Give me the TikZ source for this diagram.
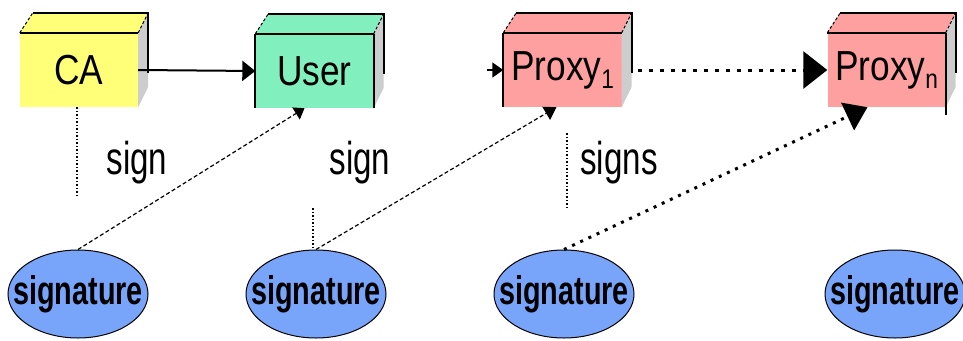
\documentclass[tikz,border=0pt]{standalone}
\usepackage{fontspec}
\setmainfont{Liberation Sans}
\newfontfamily\boxfont[FakeStretch=0.84]{Liberation Sans}
\newfontfamily\signfont[FakeStretch=0.72]{Liberation Sans}
\usetikzlibrary{arrows.meta,shapes.geometric}
\definecolor{cayellow}{RGB}{255,255,120}
\definecolor{usergreen}{RGB}{130,240,190}
\definecolor{proxyred}{RGB}{255,160,160}
\definecolor{sigblue}{RGB}{120,165,250}
\definecolor{sidegray}{RGB}{205,205,205}
\tikzset{
  front/.style={rectangle, minimum width=118pt, minimum height=74pt, inner sep=0pt,
    font=\boxfont\fontsize{42}{42}\selectfont},
  edge/.style={line width=2pt},
  sig/.style={ellipse, draw, line width=1pt, fill=sigblue, minimum width=140pt,
    minimum height=88pt, inner sep=0pt, font=\signfont\bfseries\fontsize{40}{40}\selectfont},
  lbl/.style={inner sep=0pt, font=\signfont\fontsize{46}{46}\selectfont},
  diag/.style={line width=1.2pt, dash pattern=on 4pt off 2.5pt},
  vdot/.style={line width=1.3pt, dash pattern=on 1.5pt off 2pt},
}
\newcommand\cubeparts[2]{%
  \fill[#2] (#1.north west) -- ++(13,-20) -- ([shift={(10,-20)}]#1.north east) -- (#1.north east) -- cycle;
  \fill[sidegray] (#1.north east) -- ++(10,-20) -- ++(0,74) -- (#1.south east) -- cycle;
  \draw[edge] ([shift={(13,-20)}]#1.north west) -- ([shift={(10,-20)}]#1.north east) -- ++(0,60);
  \draw[edge] (#1.north west) -- (#1.north east);
  \draw[line width=1pt, densely dashed] (#1.north west) -- ++(13,-20);
  \draw[line width=1pt, densely dashed] (#1.north east) -- ++(10,-20);
}
\newcommand\sub[1]{\raisebox{-8pt}{\fontsize{27}{27}\selectfont #1}}
\begin{document}
\begin{tikzpicture}[x=1pt,y=-1pt]
\useasboundingbox (0,0) rectangle (963,340);
% boxes
\node[front, fill=cayellow] (ca) at (79,70) {CA};
\node[front, fill=usergreen] (user) at (314.5,71) {User};
\node[front, fill=proxyred] (p1) at (562.5,70) {Proxy\sub{1}};
\node[front, fill=proxyred] (pn) at (886.5,70) {Proxy\sub{n}};
\cubeparts{ca}{cayellow}
\cubeparts{user}{usergreen}
\cubeparts{p1}{proxyred}
\cubeparts{pn}{proxyred}
\draw[edge] (user.north west) -- (user.south west);
\draw[edge] (user.north east) -- (user.south east);
\draw[edge] (p1.north west) -- (p1.south west);
\draw[edge] (pn.north east) -- ([yshift=-8pt]pn.south east);
% signatures
\node[sig] (s1) at (78,294) {\makebox[0pt]{signature}};
\node[sig] (s2) at (316,294) {\makebox[0pt]{signature}};
\node[sig] (s3) at (564,294) {\makebox[0pt]{signature}};
\node[sig] (s4) at (895,294) {\makebox[0pt]{signature}};
% labels
\node[lbl] (l1) at (137,163) {sign};
\node[lbl] (l2) at (360,163) {sign};
\node[lbl] (l3) at (619,163) {signs};
% top connectors
\draw[line width=2pt, -{Triangle[length=13pt,width=20pt]}] (ca.east) -- (user.west);
\coordinate (pin) at (487,70);
\draw[line width=1.5pt, -{Triangle[length=11pt,width=15pt]}] (pin) -- (p1.west);
\draw[line width=3pt, dash pattern=on 4pt off 7pt, -{Triangle[length=24pt,width=37pt]}]
  ([xshift=16pt]p1.east) -- (pn.west);
% diagonal connectors
\draw[diag, -{Triangle[length=10pt,width=14pt]}] (s1.north) -- ([xshift=-10pt]user.south);
\draw[diag, -{Triangle[length=12pt,width=15pt]}] (s2.north) -- ([xshift=-6pt]p1.south);
\draw[line width=3pt, dash pattern=on 3pt off 6pt, -{Triangle[length=22pt,width=30pt]}]
  (s3.north) -- ([xshift=-19pt]pn.south);
% vertical dotted lines
\coordinate (v1) at (77,195);
\draw[vdot] ([xshift=-2pt]ca.south) -- (v1);
\coordinate (v2) at (313,208);
\draw[vdot] (v2) -- ([xshift=-3pt]s2.north);
\coordinate (v3a) at (567,133);
\coordinate (v3b) at (567,208);
\draw[vdot] (v3a) -- (v3b);
\end{tikzpicture}
\end{document}
